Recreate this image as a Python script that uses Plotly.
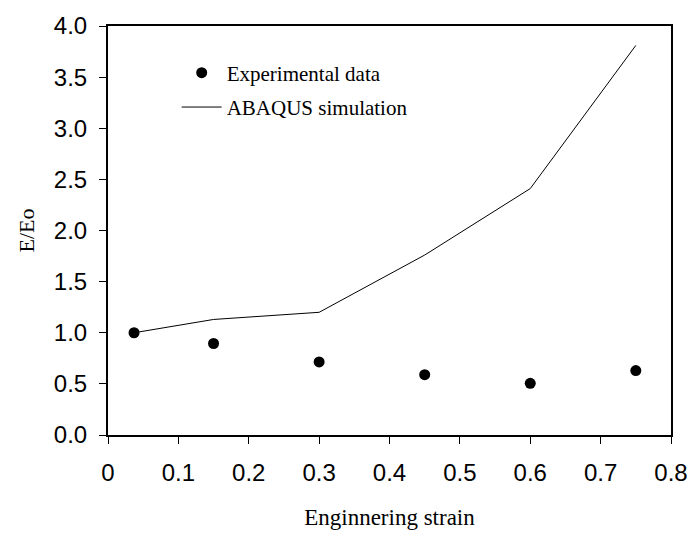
import plotly.graph_objects as go

# Normalised modulus E/Eo versus engineering strain
strain_exp = [0.037, 0.15, 0.30, 0.45, 0.60, 0.75]
ratio_exp = [1.00, 0.895, 0.715, 0.59, 0.505, 0.63]

strain_sim = [0.037, 0.15, 0.30, 0.45, 0.60, 0.75]
ratio_sim = [1.00, 1.13, 1.20, 1.76, 2.41, 3.81]

x_ticks = [0, 0.1, 0.2, 0.3, 0.4, 0.5, 0.6, 0.7, 0.8]
x_labels = ["0", "0.1", "0.2", "0.3", "0.4", "0.5", "0.6", "0.7", "0.8"]
y_ticks = [0, 0.5, 1.0, 1.5, 2.0, 2.5, 3.0, 3.5, 4.0]
y_labels = ["0.0", "0.5", "1.0", "1.5", "2.0", "2.5", "3.0", "3.5", "4.0"]

serif = "Liberation Serif, Times New Roman"
sans = "Liberation Sans, Arial"

fig = go.Figure()
fig.add_trace(go.Scatter(
    x=strain_exp, y=ratio_exp, mode="markers", name="Experimental data",
    marker=dict(color="black", size=11), legendgroup="exp",
))
fig.add_trace(go.Scatter(
    x=strain_sim, y=ratio_sim, mode="lines", name="ABAQUS simulation",
    line=dict(color="black", width=1), legendgroup="sim",
))

axis_common = dict(
    showline=True, linecolor="black", linewidth=2, mirror=True,
    ticks="outside", ticklen=7, tickwidth=1, tickcolor="black",
    showgrid=False, zeroline=False,
    tickfont=dict(family=sans, size=24, color="black"),
)

fig.update_layout(
    width=700, height=538,
    margin=dict(l=108, r=22, t=18, b=101),
    plot_bgcolor="white", paper_bgcolor="white",
    xaxis=dict(range=[0, 0.8], tickvals=x_ticks, ticktext=x_labels,
               ticklabelstandoff=8,
               title=dict(text="Enginnering strain", standoff=24,
                          font=dict(family=serif, size=23, color="black")),
               **axis_common),
    yaxis=dict(range=[0, 4.0], tickvals=y_ticks, ticktext=y_labels,
               ticklabelstandoff=7,
               title=dict(text="E/Eo", standoff=13,
                          font=dict(family=serif, size=22, color="black")),
               **axis_common),
    legend=dict(x=0.122, y=0.935, xanchor="left", yanchor="top",
                bgcolor="rgba(0,0,0,0)", tracegroupgap=4, itemwidth=40,
                font=dict(family=serif, size=21, color="black")),
    showlegend=True,
)

fig.write_html("out.html")
